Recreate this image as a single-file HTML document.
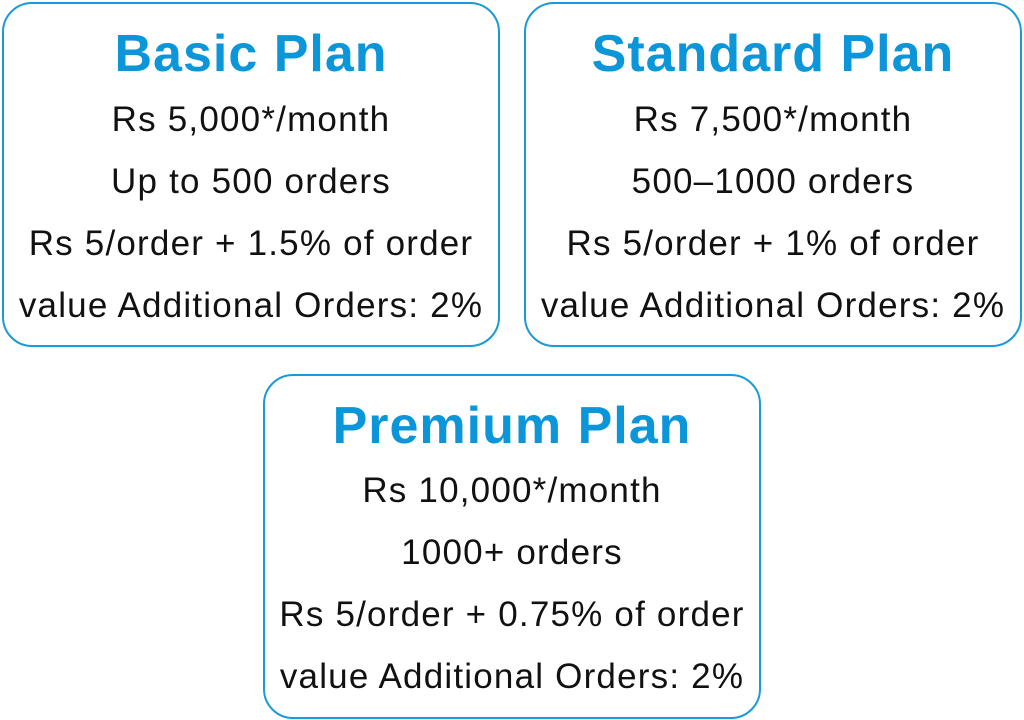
<!DOCTYPE html>
<html><head><style>
body{margin:0;width:1024px;height:720px;background:#fff;position:relative;overflow:hidden;font-family:"Liberation Sans",sans-serif}
.box{position:absolute;width:494px;height:341px;border:2px solid #1a9ad6;border-radius:30px;box-sizing:content-box}
.t{position:absolute;left:0;width:100%;text-align:center;white-space:nowrap;line-height:1}
.h{font-size:52px;font-weight:bold;color:#0a96d8;letter-spacing:1px}
.l{font-size:35px;color:#111;letter-spacing:1.2px}
</style></head><body>
<div class="box" style="left:2px;top:2px">
<div class="t h" style="top:24px">Basic Plan</div>
<div class="t l" style="top:98px">Rs 5,000*/month</div>
<div class="t l" style="top:160px">Up to 500 orders</div>
<div class="t l" style="top:222px">Rs 5/order + 1.5% of order</div>
<div class="t l" style="top:284px">value Additional Orders: 2%</div>
</div>
<div class="box" style="left:524px;top:2px">
<div class="t h" style="top:24px">Standard Plan</div>
<div class="t l" style="top:98px">Rs 7,500*/month</div>
<div class="t l" style="top:160px">500–1000 orders</div>
<div class="t l" style="top:222px">Rs 5/order + 1% of order</div>
<div class="t l" style="top:284px">value Additional Orders: 2%</div>
</div>
<div class="box" style="left:263px;top:374px">
<div class="t h" style="top:24px">Premium Plan</div>
<div class="t l" style="top:97px">Rs 10,000*/month</div>
<div class="t l" style="top:159px">1000+ orders</div>
<div class="t l" style="top:221px">Rs 5/order + 0.75% of order</div>
<div class="t l" style="top:283px">value Additional Orders: 2%</div>
</div>
</body></html>
